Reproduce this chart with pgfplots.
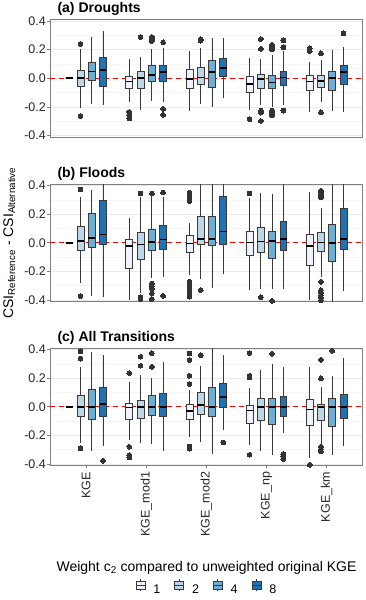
\documentclass[border=0pt]{standalone}
\usepackage{fontspec}
\setmainfont{Liberation Sans}
\usepackage{pgfplots}
\usepgfplotslibrary{statistics}
\pgfplotsset{compat=1.18}

\definecolor{b1}{HTML}{EFF3FF}
\definecolor{b2}{HTML}{BDD7E7}
\definecolor{b4}{HTML}{6BAED6}
\definecolor{b8}{HTML}{2171B5}
\definecolor{edge}{HTML}{3A3A3A}
\definecolor{dot}{HTML}{333333}
\definecolor{frame}{HTML}{808080}
\definecolor{gridmaj}{HTML}{EBEBEB}
\definecolor{gridmin}{HTML}{F5F5F5}

\pgfplotsset{
  bxs/.style={forget plot, draw=edge, line width=0.75pt,
    mark=*, mark size=2.4pt, mark options={draw=dot, fill=dot, line width=0pt, solid},
    boxplot/draw direction=y,
    boxplot/box extend=0.115, boxplot/whisker extend=0,
    boxplot/every median/.style={draw=black, line width=1.8pt},
    boxplot/every whisker/.style={draw=edge}},
  panel/.style={scale only axis, width=312.7pt, height=117.5pt,
    xmin=0.4, xmax=5.6, ymin=-0.41, ymax=0.41,
    ytick={-0.4,-0.2,0,0.2,0.4}, yticklabels={-0.4,-0.2,0.0,0.2,0.4},
    minor ytick={-0.3,-0.1,0.1,0.3},
    ymajorgrids=true, yminorgrids=true,
    major grid style={draw=gridmaj, line width=0.7pt},
    minor grid style={draw=gridmin, line width=0.5pt},
    axis line style={draw=frame, line width=0.8pt},
    tick align=outside, major tick length=3pt, minor tick length=0pt,
    tick style={draw=frame, line width=0.8pt},
    xtick pos=bottom, ytick pos=left,
    tick label style={font=\fontsize{12.5}{14}\selectfont, text=black!85},
    yticklabel style={inner sep=1pt},
    clip=true},
  legbox/.style={legend image code/.code={
    \draw[##1, draw=edge, line width=0.7pt] (0pt,0.6pt) rectangle (9pt,8.2pt);
    \draw[edge, line width=0.7pt] (0pt,4.4pt) -- (9pt,4.4pt)
      (4.5pt,8.2pt) -- (4.5pt,10.4pt) (4.5pt,0.6pt) -- (4.5pt,-1.6pt);}}
}

% position, fill, lower whisker, q1, median, q3, upper whisker, outliers
\newcommand{\bp}[8]{\addplot[bxs, fill=#2, boxplot prepared={draw position=#1,
  lower whisker=#3, lower quartile=#4, median=#5, upper quartile=#6, upper whisker=#7}]
  coordinates {#8};}
\newcommand{\zeroline}{\addplot[forget plot, red, line width=1.3pt, dash pattern=on 5pt off 4pt]
  coordinates {(0.4,0) (5.6,0)};}

\begin{document}
\begin{tikzpicture}
\useasboundingbox (0,0) rectangle (366pt,-600pt);

% (a) Droughts
\begin{axis}[panel, name=pa, at={(50pt,-19.5pt)}, anchor=north west, xtick=\empty]
\zeroline
\bp{0.71875}{b1}{0}{0}{0}{0}{0}{}
\bp{0.90625}{b2}{-0.205}{-0.058}{0.002}{0.058}{0.205}{(0,0.24) (0,-0.263)}
\bp{1.09375}{b4}{-0.181}{-0.016}{0.047}{0.109}{0.288}{}
\bp{1.28125}{b8}{-0.186}{-0.058}{0.056}{0.144}{0.333}{}
\bp{1.71875}{b1}{-0.163}{-0.07}{-0.023}{0.012}{0.135}{(0,-0.235) (0,-0.258) (0,-0.28)}
\bp{1.90625}{b2}{-0.221}{-0.07}{0.003}{0.047}{0.151}{(0,0.288)}
\bp{2.09375}{b4}{-0.158}{-0.023}{0.021}{0.088}{0.205}{(0,0.288) (0,0.274) (0,0.26)}
\bp{2.28125}{b8}{-0.167}{-0.019}{0.042}{0.088}{0.209}{(0,0.251) (0,-0.214) (0,-0.256)}
\bp{2.71875}{b1}{-0.228}{-0.074}{-0.003}{0.065}{0.19}{}
\bp{2.90625}{b2}{-0.181}{-0.042}{0.005}{0.074}{0.214}{(0,0.272) (0,0.262)}
\bp{3.09375}{b4}{-0.202}{-0.065}{0.042}{0.128}{0.279}{}
\bp{3.28125}{b8}{-0.14}{0.016}{0.074}{0.14}{0.279}{}
\bp{3.71875}{b1}{-0.221}{-0.098}{-0.04}{0.014}{0.144}{(0,-0.286)}
\bp{3.90625}{b2}{-0.186}{-0.072}{-0.007}{0.028}{0.133}{(0,0.274) (0,0.205) (0,-0.226) (0,-0.24) (0,-0.298)}
\bp{4.09375}{b4}{-0.202}{-0.074}{-0.03}{0.023}{0.163}{(0,0.233) (0,0.222) (0,0.21) (0,0.2) (0,-0.226) (0,-0.24) (0,-0.253) (0,-0.26)}
\bp{4.28125}{b8}{-0.186}{-0.047}{0.005}{0.051}{0.19}{(0,0.265) (0,0.216) (0,-0.226)}
\bp{4.71875}{b1}{-0.233}{-0.084}{-0.023}{0.023}{0.112}{(0,0.209) (0,0.19)}
\bp{4.90625}{b2}{-0.167}{-0.065}{-0.019}{0.023}{0.128}{(0,0.174) (0,-0.237)}
\bp{5.09375}{b4}{-0.226}{-0.084}{0}{0.047}{0.198}{}
\bp{5.28125}{b8}{-0.237}{-0.04}{0.042}{0.093}{0.216}{(0,0.314)}
\end{axis}
\node[anchor=base west, xshift=4pt, yshift=7pt, font=\bfseries\fontsize{14}{16}\selectfont] at (pa.north west) {(a) Droughts};

% (b) Floods
\begin{axis}[panel, name=pb, at={(50pt,-184pt)}, anchor=north west, xtick=\empty]
\zeroline
\bp{0.71875}{b1}{0}{0}{0}{0}{0}{}
\bp{0.90625}{b2}{-0.284}{-0.051}{0.014}{0.116}{0.316}{(0,0.372) (0,-0.372)}
\bp{1.09375}{b4}{-0.372}{-0.033}{0.035}{0.205}{0.367}{}
\bp{1.28125}{b8}{-0.377}{-0.012}{0.058}{0.293}{0.45}{}
\bp{1.71875}{b1}{-0.4}{-0.179}{-0.023}{0.023}{0.17}{}
\bp{1.90625}{b2}{-0.353}{-0.114}{-0.012}{0.07}{0.321}{(0,0.344) (0,-0.381) (0,-0.393)}
\bp{2.09375}{b4}{-0.249}{-0.056}{0.007}{0.095}{0.326}{(0,0.344) (0,-0.284) (0,-0.302) (0,-0.319) (0,-0.353) (0,-0.393)}
\bp{2.28125}{b8}{-0.237}{-0.044}{0.023}{0.119}{0.321}{(0,0.351) (0,-0.37)}
\bp{2.71875}{b1}{-0.226}{-0.067}{-0.005}{0.053}{0.135}{(0,0.349) (0,0.337) (0,0.326) (0,0.314) (0,0.302) (0,0.291) (0,-0.272) (0,-0.29) (0,-0.307) (0,-0.326) (0,-0.342) (0,-0.358) (0,-0.377)}
\bp{2.90625}{b2}{-0.253}{-0.009}{0.028}{0.186}{0.45}{(0,-0.33)}
\bp{3.09375}{b4}{-0.319}{-0.019}{0.028}{0.186}{0.45}{}
\bp{3.28125}{b8}{-0.221}{-0.012}{0.079}{0.326}{0.45}{}
\bp{3.71875}{b1}{-0.33}{-0.091}{0.002}{0.077}{0.309}{(0,0.344) (0,0.42)}
\bp{3.90625}{b2}{-0.326}{-0.067}{0.009}{0.107}{0.349}{(0,-0.381)}
\bp{4.09375}{b4}{-0.326}{-0.109}{0.014}{0.077}{0.34}{(0,0.42) (0,-0.405)}
\bp{4.28125}{b8}{-0.326}{-0.053}{0.028}{0.147}{0.45}{}
\bp{4.71875}{b1}{-0.4}{-0.158}{-0.021}{0.058}{0.356}{}
\bp{4.90625}{b2}{-0.237}{-0.058}{0.002}{0.074}{0.24}{(0,0.363) (0,0.352) (0,0.34) (0,0.33) (0,0.316) (0,-0.272) (0,-0.33) (0,-0.349) (0,-0.365) (0,-0.381) (0,-0.4)}
\bp{5.09375}{b4}{-0.45}{-0.13}{0}{0.128}{0.45}{}
\bp{5.28125}{b8}{-0.335}{-0.044}{0.026}{0.242}{0.45}{}
\end{axis}
\node[anchor=base west, xshift=4pt, yshift=7pt, font=\bfseries\fontsize{14}{16}\selectfont] at (pb.north west) {(b) Floods};

% (c) All Transitions
\begin{axis}[panel, name=pc, at={(50pt,-348pt)}, anchor=north west,
  xtick={1,2,3,4,5}, xticklabels={KGE,KGE\_mod1,KGE\_mod2,KGE\_np,KGE\_km},
  xticklabel style={rotate=90, anchor=east},
  legend columns=4,
  legend style={at={(0.502,-1.04)}, anchor=center, draw=none, fill=none,
    font=\fontsize{12.5}{14}\selectfont, inner sep=0pt,
    /tikz/every odd column/.append style={column sep=6pt},
    /tikz/every even column/.append style={column sep=12pt}}]
\zeroline
\bp{0.71875}{b1}{0}{0}{0}{0}{0}{}
\bp{0.90625}{b2}{-0.251}{-0.064}{0}{0.082}{0.278}{(0,0.387) (0,0.335) (0,-0.29)}
\bp{1.09375}{b4}{-0.306}{-0.085}{0}{0.122}{0.379}{}
\bp{1.28125}{b8}{-0.272}{-0.066}{0.02}{0.134}{0.364}{(0,-0.377)}
\bp{1.71875}{b1}{-0.235}{-0.086}{-0.005}{0.026}{0.172}{(0,0.235) (0,-0.279) (0,-0.337) (0,-0.353)}
\bp{1.90625}{b2}{-0.251}{-0.084}{0}{0.042}{0.219}{(0,0.349) (0,0.286)}
\bp{2.09375}{b4}{-0.26}{-0.058}{0}{0.081}{0.2}{(0,0.374) (0,0.279)}
\bp{2.28125}{b8}{-0.307}{-0.067}{0}{0.095}{0.309}{}
\bp{2.71875}{b1}{-0.212}{-0.086}{-0.028}{0.014}{0.119}{(0,0.372) (0,0.326) (0,0.216) (0,0.158) (0,-0.277) (0,-0.293)}
\bp{2.90625}{b2}{-0.249}{-0.053}{0.012}{0.102}{0.281}{(0,0.36)}
\bp{3.09375}{b4}{-0.328}{-0.067}{0}{0.135}{0.45}{}
\bp{3.28125}{b8}{-0.16}{-0.002}{0.067}{0.16}{0.358}{(0,-0.249)}
\bp{3.71875}{b1}{-0.267}{-0.116}{-0.026}{0.012}{0.128}{(0,0.374) (0,0.216) (0,0.205) (0,-0.335)}
\bp{3.90625}{b2}{-0.307}{-0.093}{0}{0.058}{0.258}{}
\bp{4.09375}{b4}{-0.335}{-0.121}{0}{0.06}{0.298}{(0,0.37)}
\bp{4.28125}{b8}{-0.186}{-0.07}{0}{0.074}{0.279}{(0,-0.33) (0,-0.347) (0,-0.365)}
\bp{4.71875}{b1}{-0.36}{-0.13}{-0.019}{0.051}{0.279}{(0,-0.405)}
\bp{4.90625}{b2}{-0.272}{-0.098}{0}{0.019}{0.135}{(0,0.328) (0,0.198) (0,-0.279) (0,-0.295) (0,-0.312)}
\bp{5.09375}{b4}{-0.335}{-0.137}{0}{0.058}{0.212}{(0,0.391)}
\bp{5.28125}{b8}{-0.272}{-0.081}{0}{0.088}{0.34}{}
\addlegendimage{legbox, fill=b1}\addlegendentry{1}
\addlegendimage{legbox, fill=b2}\addlegendentry{2}
\addlegendimage{legbox, fill=b4}\addlegendentry{4}
\addlegendimage{legbox, fill=b8}\addlegendentry{8}
\end{axis}
\node[anchor=base west, xshift=4pt, yshift=7pt, font=\bfseries\fontsize{14}{16}\selectfont] at (pc.north west) {(c) All Transitions};

\node[rotate=90, anchor=base, font=\fontsize{14}{16}\selectfont] at (13pt,-243pt)
  {CSI\textsubscript{Reference} - CSI\textsubscript{Alternative}};
\node[anchor=base, font=\fontsize{14}{16}\selectfont] at (206.5pt,-571pt)
  {Weight c\textsubscript{2} compared to unweighted original KGE};
\end{tikzpicture}
\end{document}
